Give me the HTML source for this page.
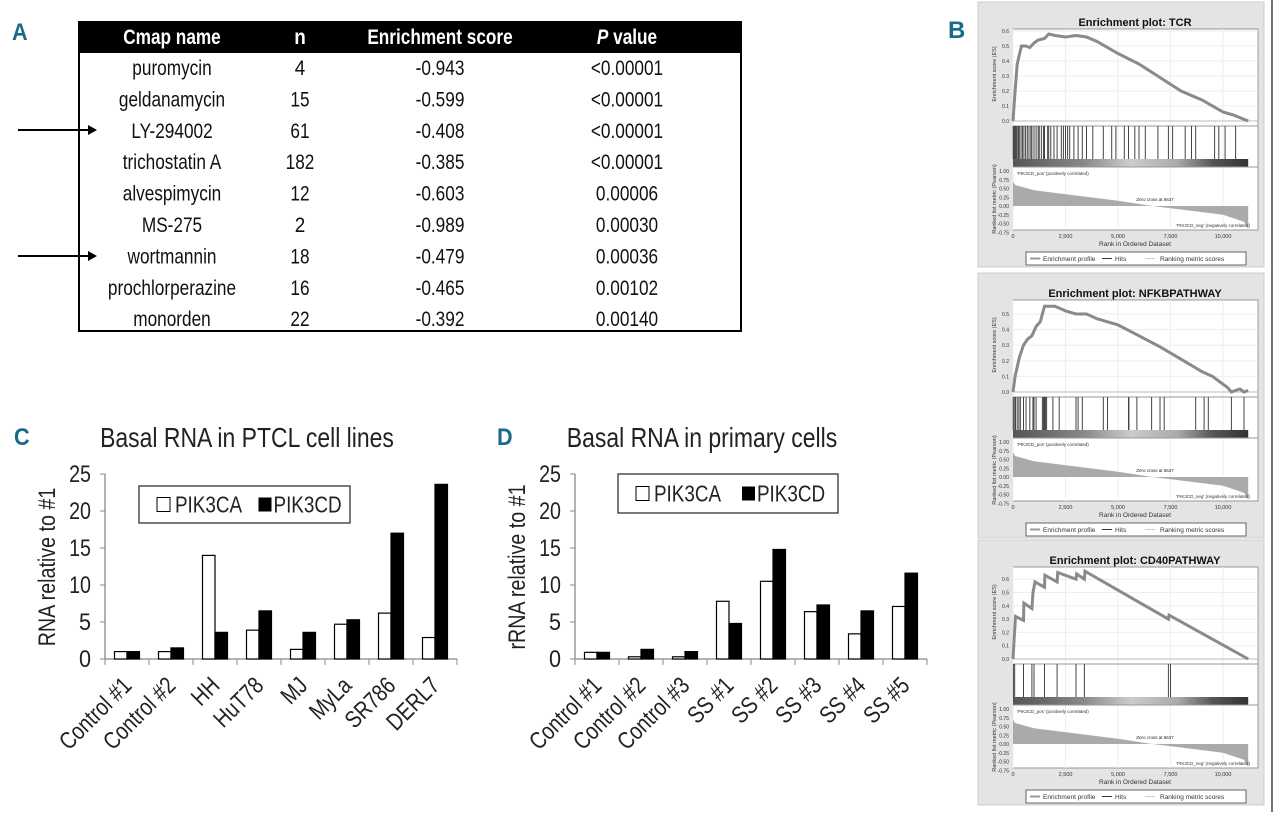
<!DOCTYPE html>
<html><head><meta charset="utf-8"><style>
html,body{margin:0;padding:0;background:#fff;}
svg{display:block;font-family:"Liberation Sans",sans-serif;}
</style></head><body>
<svg id="fig" width="1280" height="820" viewBox="0 0 1280 820" xmlns="http://www.w3.org/2000/svg">
<g id="panelA">
<text x="12" y="40" font-size="24" font-weight="bold" fill="#1a6a8a">A</text>
<rect x="78" y="21" width="664" height="31" fill="#000"/>
<rect x="79" y="52" width="662" height="279" fill="none" stroke="#000" stroke-width="2"/>
<g font-size="21" font-weight="bold" fill="#fff" text-anchor="middle">
<text x="172" y="44">Cmap name</text>
<text x="300" y="44">n</text>
<text x="440" y="44">Enrichment score</text>
<text x="627" y="44"><tspan font-style="italic">P</tspan> value</text>
</g>
<g id="rows" font-size="21" fill="#111" text-anchor="middle"></g>
<g><line x1="18" y1="130" x2="90" y2="130" stroke="#000" stroke-width="2"/><polygon points="88,125 97,130 88,135" fill="#000"/></g>
<g><line x1="18" y1="256" x2="90" y2="256" stroke="#000" stroke-width="2"/><polygon points="88,251 97,256 88,261" fill="#000"/></g>
</g>
<g id="chartC"></g>
<g id="chartD"></g>
<g id="panelB">
<text x="948" y="38" font-size="24" font-weight="bold" fill="#1a6a8a">B</text>
<line x1="1272" y1="0" x2="1272" y2="812" stroke="#444" stroke-width="1.5"/>
</g>
</svg>
<script>
// ---- Table data ----
const cmapNames=["puromycin","geldanamycin","LY-294002","trichostatin A","alvespimycin","MS-275","wortmannin","prochlorperazine","monorden"];
const cmapN=["4","15","61","182","12","2","18","16","22"];
const cmapES=["-0.943","-0.599","-0.408","-0.385","-0.603","-0.989","-0.479","-0.465","-0.392"];
const cmapP=["<0.00001","<0.00001","<0.00001","<0.00001","0.00006","0.00030","0.00036","0.00102","0.00140"];
// ---- Chart C data ----
const catsC=["Control #1","Control #2","HH","HuT78","MJ","MyLa","SR786","DERL7"];
const caC=[1,1,14,3.9,1.3,4.7,6.2,2.9];
const cdC=[1,1.5,3.6,6.5,3.6,5.3,17,23.6];
// ---- Chart D data ----
const catsD=["Control #1","Control #2","Control #3","SS #1","SS #2","SS #3","SS #4","SS #5"];
const caD=[0.9,0.3,0.3,7.8,10.5,6.4,3.4,7.1];
const cdD=[0.9,1.3,1.0,4.8,14.8,7.3,6.5,11.6];
const barTicks=[0,5,10,15,20,25];
// ---- GSEA data ----
const tcrRanks=[0,100,200,400,600,800,1000,1200,1500,1700,2000,2500,3000,3500,4000,5000,6000,7000,8000,9000,10000,10500,11200];
const tcrES=[0,0.2,0.38,0.5,0.5,0.49,0.52,0.54,0.55,0.58,0.57,0.56,0.57,0.56,0.53,0.45,0.38,0.29,0.2,0.14,0.06,0.04,0.0];
const tcrHits=[10,40,80,120,160,200,260,300,380,450,520,600,680,760,850,900,1000,1100,1200,1250,1350,1450,1500,1650,1700,1800,1950,2100,2300,2400,2500,2600,2700,2900,3100,3300,3500,3800,4300,4700,4900,5300,5500,5800,6000,6300,6900,7400,7600,8200,8500,8700,9600,9800,10100,10600];
const nfkbRanks=[0,100,300,500,700,900,1100,1300,1500,1700,2000,2500,3000,3500,4000,5000,6000,7000,8000,9000,9500,10200,10400,10800,11000,11200];
const nfkbES=[0,0.1,0.22,0.3,0.34,0.36,0.42,0.45,0.55,0.55,0.55,0.52,0.5,0.5,0.47,0.43,0.36,0.29,0.21,0.13,0.1,0.03,0,0.02,0,0.01];
const nfkbHits=[10,60,120,200,280,350,500,620,800,950,1000,1100,1400,1450,1500,1550,1600,1900,2200,3000,3100,3300,4300,4500,5500,5520,5900,6600,7000,7200,8700,9100,9300,10400,11000];
const cd40Ranks=[0,60,120,500,520,900,950,1050,1500,1520,2100,2130,3000,3030,3400,3430,7400,7430,11200];
const cd40ES=[0,0.17,0.32,0.29,0.42,0.38,0.5,0.58,0.54,0.63,0.58,0.65,0.6,0.64,0.6,0.66,0.3,0.33,0.0];
const cd40Hits=[20,80,500,900,1000,1500,2100,3000,3400,7400,7500];
const metricRanks=[0,100,1000,3000,5000,6637,8000,10000,11000,11200];
const metricVals=[0.7,0.6,0.45,0.3,0.15,0,-0.1,-0.25,-0.45,-0.65];
const rankTicks=[0,2500,5000,7500,10000];
const rankTickLabels=["0","2,500","5,000","7,500","10,000"];
const metricTicks=[1.0,0.75,0.5,0.25,0,-0.25,-0.5,-0.75];

const NS="http://www.w3.org/2000/svg";
function mk(parent,tag,attrs,txt){const e=document.createElementNS(NS,tag);for(const k in attrs)e.setAttribute(k,attrs[k]);if(txt!==undefined)e.textContent=txt;parent.appendChild(e);return e;}

// table rows
const rows=document.getElementById('rows');
const colX=[172,300,440,627];
cmapNames.forEach((nm,i)=>{
  const y=75+i*31.4;
  const vals=[nm,cmapN[i],cmapES[i],cmapP[i]];
  const keys=['name','n','es','p'];
  vals.forEach((v,j)=>{
    const t=mk(rows,'text',{x:colX[j],y:y},v);
    
    
  });
});

// bar charts
function barChart(gid,letter,title,ylabel,cats,ca,cd,x0,titleX,lx,ly,lw,lh,lbX){
  const g=document.getElementById(gid);
  const y0=659, ppu=7.4, cw=44, x1=x0+cw*cats.length;
  const ys=v=>y0-v*ppu;
  const L=mk(g,'text',{x:lbX,y:445,'font-size':24,'font-weight':'bold',fill:'#1a6a8a'},letter);
  
  
  const T=mk(g,'text',{x:titleX,y:447,'font-size':28,'text-anchor':'middle',fill:'#222'},title);
  
  
  const ax=mk(g,'line',{x1:x0,y1:ys(25),x2:x0,y2:y0,stroke:'#888','stroke-width':1.3});
  
  
  const xa=mk(g,'line',{x1:x0,y1:y0,x2:x1,y2:y0,stroke:'#888','stroke-width':1.3});
  
  
  barTicks.forEach(t=>{
    const tk=mk(g,'line',{x1:x0-5,y1:ys(t),x2:x0,y2:ys(t),stroke:'#888'});
    
    
    const tl=mk(g,'text',{x:x0-14,y:ys(t)+8,'font-size':24,'text-anchor':'end',fill:'#222'},String(t));
    
    
  });
  for(let i=0;i<=cats.length;i++){
    const tk=mk(g,'line',{x1:x0+i*cw,y1:y0,x2:x0+i*cw,y2:y0+6,stroke:'#888'});
    
    
  }
  const yl=mk(g,'text',{x:0,y:0,'font-size':24,'text-anchor':'middle',fill:'#222',transform:`translate(${x0-50},567) rotate(-90) scale(0.82,1)`},ylabel);
  
  
  cats.forEach((c,i)=>{
    const cx=x0+cw*i+cw/2;
    const b1=mk(g,'rect',{x:cx-12.5,y:ys(ca[i]),width:12.5,height:ca[i]*ppu,fill:'#fff',stroke:'#000','stroke-width':1.2});
    
    
    const b2=mk(g,'rect',{x:cx,y:ys(cd[i]),width:12.5,height:cd[i]*ppu,fill:'#000',stroke:'#000','stroke-width':1.2});
    
    
    const xl=mk(g,'text',{x:0,y:0,'font-size':24,'text-anchor':'end',fill:'#222',transform:`translate(${cx+6},${y0+28}) rotate(-45) scale(0.82,1)`},c);
    
    
  });
  const lg=mk(g,'g',{});
  
  
  mk(lg,'rect',{x:lx,y:ly,width:lw,height:lh,fill:'#fff',stroke:'#333','stroke-width':1.3});
  const e1=mk(lg,'rect',{x:lx+18,y:ly+lh/2-7,width:13,height:14,fill:'#fff',stroke:'#000'});
  
  
  const t1=mk(lg,'text',{x:lx+36,y:ly+lh/2+8,'font-size':23,fill:'#222'},'PIK3CA');
  
  
  const e2=mk(lg,'rect',{x:lx+lw/2+14,y:ly+lh/2-7,width:13,height:14,fill:'#000'});
  
  
  const t2=mk(lg,'text',{x:lx+lw/2+29,y:ly+lh/2+8,'font-size':23,fill:'#222'},'PIK3CD');
  
  
}
barChart('chartC','C','Basal RNA in PTCL cell lines','RNA relative to #1',catsC,caC,cdC,105,247,139,486,211,37,14);
barChart('chartD','D','Basal RNA in primary cells','rRNA relative to #1',catsD,caD,cdD,575,702,618,474,220,39,497);

// condense text in panels A, C, D (emulate condensed font)
['panelA','chartC','chartD'].forEach(id=>{
  document.getElementById(id).querySelectorAll('text').forEach(t=>{
    if(t.getAttribute('transform'))return;
    const x=parseFloat(t.getAttribute('x'));
    const s=(t.textContent.length===1)?0.9:0.82;
    t.setAttribute('transform',`translate(${x},0) scale(${s},1) translate(${-x},0)`);
  });
});

// GSEA plots
function gsea(T,title,ranks,es,hits,esMax,esStep,pxPer01){
  const pb=document.getElementById('panelB');
  const g=mk(pb,'g',{'font-family':'Liberation Sans, sans-serif'});
  
  
  const px0=1013,px1=1258;
  const xs=r=>px0+r*0.021;
  const zero=T+107;
  const ys=v=>zero-v*pxPer01*10;
  mk(g,'rect',{x:978,y:T-12,width:286,height:265,fill:'#e4e4e4',stroke:'#ccc'});
  const tt=mk(g,'text',{x:1135,y:T+12,'font-size':11,'font-weight':'bold','text-anchor':'middle',fill:'#111'},title);
  
  
  mk(g,'rect',{x:px0,y:T+15,width:px1-px0,height:201,fill:'#fff',stroke:'#999'});
  for(let v=0;v<=esMax+1e-9;v+=esStep){
    mk(g,'line',{x1:px0,y1:ys(v),x2:px1,y2:ys(v),stroke:'#eee'});
    const tl=mk(g,'text',{x:px0-4,y:ys(v)+2,'font-size':5,'text-anchor':'end',fill:'#333'},v.toFixed(1));
    
    
  }
  rankTicks.forEach((r,i)=>{
    mk(g,'line',{x1:xs(r),y1:T+15,x2:xs(r),y2:T+216,stroke:'#eee'});
    const tl=mk(g,'text',{x:xs(r),y:T+224,'font-size':5.5,'text-anchor':'middle',fill:'#333'},rankTickLabels[i]);
    
    
  });
  const yt=mk(g,'text',{x:0,y:0,'font-size':5.5,'text-anchor':'middle',fill:'#333',transform:`translate(${px0-17},${T+60}) rotate(-90)`},'Enrichment score (ES)');
  
  
  mk(g,'line',{x1:px0,y1:zero,x2:px1,y2:zero,stroke:'#bbb'});
  let d='';ranks.forEach((r,i)=>{d+=(i?'L':'M')+xs(r).toFixed(1)+','+ys(es[i]).toFixed(1);});
  const pl=mk(g,'path',{d:d,fill:'none',stroke:'#8a8a8a','stroke-width':3});
  
  
  mk(g,'line',{x1:px0,y1:T+112,x2:px1,y2:T+112,stroke:'#999'});
  hits.forEach(h=>{
    const hl=mk(g,'line',{x1:xs(h),y1:T+112,x2:xs(h),y2:T+145,stroke:'#444','stroke-width':1});
    
    
  });
  const cb=mk(g,'rect',{x:px0,y:T+145,width:xs(11200)-px0,height:8,fill:'url(#cbgrad)'});
  
  
  mk(g,'line',{x1:px0,y1:T+153,x2:px1,y2:T+153,stroke:'#999'});
  const mz=T+192, mys=v=>mz-v*35;
  metricTicks.forEach(v=>{
    const tl=mk(g,'text',{x:px0-4,y:mys(v)+2,'font-size':5,'text-anchor':'end',fill:'#333'},v.toFixed(2));
    
    
  });
  let md='M'+xs(0)+','+mz;metricRanks.forEach((r,i)=>{md+='L'+xs(r).toFixed(1)+','+mys(metricVals[i]).toFixed(1);});md+='L'+xs(11200)+','+mz+'Z';
  const ma=mk(g,'path',{d:md,fill:'#aaa'});
  
  
  mk(g,'text',{x:px0+4,y:T+161,'font-size':4.5,fill:'#333'},"'PIK3CD_pos' (positively correlated)");
  mk(g,'text',{x:1155,y:mz-5,'font-size':4.5,'text-anchor':'middle',fill:'#222'},'Zero cross at 6637');
  mk(g,'text',{x:1250,y:T+213,'font-size':4.5,'text-anchor':'end',fill:'#333'},"'PIK3CD_neg' (negatively correlated)");
  mk(g,'text',{x:0,y:0,'font-size':5.5,'text-anchor':'middle',fill:'#333',transform:`translate(${px0-17},${T+185}) rotate(-90)`},'Ranked list metric (Pearson)');
  const xt=mk(g,'text',{x:1135,y:T+232,'font-size':6.5,'text-anchor':'middle',fill:'#333'},'Rank in Ordered Dataset');
  
  
  const lg=mk(g,'g',{});
  
  
  mk(lg,'rect',{x:1026,y:T+238,width:220,height:13,fill:'#fff',stroke:'#666'});
  mk(lg,'line',{x1:1030,y1:T+244.5,x2:1040,y2:T+244.5,stroke:'#999','stroke-width':2});
  mk(lg,'text',{x:1043,y:T+247,'font-size':6.5,fill:'#333'},'Enrichment profile');
  mk(lg,'line',{x1:1102,y1:T+244.5,x2:1112,y2:T+244.5,stroke:'#333','stroke-width':1});
  mk(lg,'text',{x:1115,y:T+247,'font-size':6.5,fill:'#333'},'Hits');
  mk(lg,'line',{x1:1145,y1:T+244.5,x2:1155,y2:T+244.5,stroke:'#ccc','stroke-width':1});
  mk(lg,'text',{x:1160,y:T+247,'font-size':6.5,fill:'#333'},'Ranking metric scores');
}
const defs=mk(document.getElementById('fig'),'defs',{});
const lgd=mk(defs,'linearGradient',{id:'cbgrad',x1:0,y1:0,x2:1,y2:0});
[['0','#555'],['0.3','#888'],['0.5','#ccc'],['0.7','#aaa'],['0.85','#555'],['1','#333']].forEach(s=>mk(lgd,'stop',{offset:s[0],'stop-color':s[1]}));
gsea(14,'Enrichment plot: TCR',tcrRanks,tcrES,tcrHits,0.6,0.1,15);
gsea(285,'Enrichment plot: NFKBPATHWAY',nfkbRanks,nfkbES,nfkbHits,0.5,0.1,15.6);
gsea(552,'Enrichment plot: CD40PATHWAY',cd40Ranks,cd40ES,cd40Hits,0.6,0.1,13.3);
</script>
</body></html>
